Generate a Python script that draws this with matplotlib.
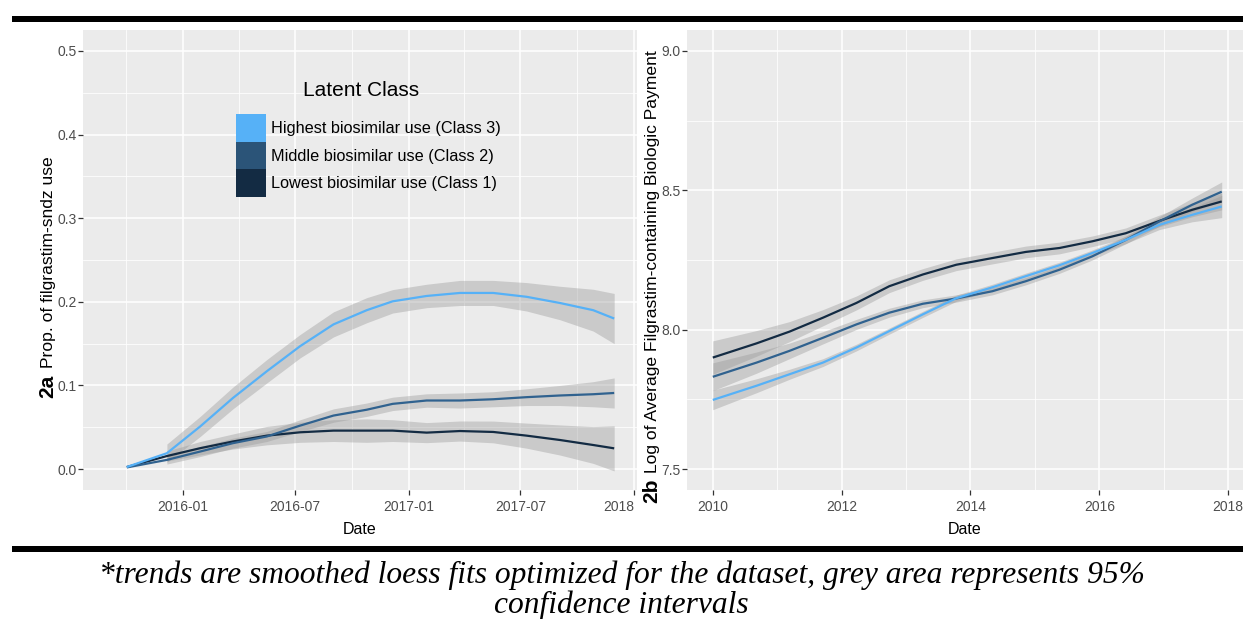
import matplotlib
matplotlib.use('Agg')
import matplotlib.pyplot as plt
from matplotlib.patches import Rectangle, Patch
import numpy as np
import pandas as pd

# ---------------- data ----------------
classes = ['Highest biosimilar use (Class 3)', 'Middle biosimilar use (Class 2)', 'Lowest biosimilar use (Class 1)']

# Panel 2a: proportion of filgrastim-sndz use (loess fit) and 95% CI half-width
dates_a = ['2015-10-02', '2015-12-06', '2016-01-29', '2016-03-22', '2016-05-16', '2016-07-09',
           '2016-09-01', '2016-10-25', '2016-12-06', '2017-01-30', '2017-03-25', '2017-05-18',
           '2017-07-11', '2017-09-03', '2017-10-27', '2017-11-30']
prop_c3 = [0.0025, 0.019, 0.051, 0.085, 0.117, 0.147, 0.173, 0.190, 0.2006, 0.207, 0.2106, 0.2106,
           0.206, 0.1986, 0.190, 0.180]
prop_c2 = [0.002, 0.011, 0.021, 0.031, 0.039, 0.052, 0.064, 0.071, 0.078, 0.082, 0.082, 0.0835,
           0.086, 0.088, 0.0895, 0.091]
prop_c1 = [0.0025, 0.0156, 0.025, 0.033, 0.040, 0.044, 0.046, 0.046, 0.046, 0.0436, 0.0455, 0.0444,
           0.040, 0.0348, 0.0288, 0.0248]
ci_c3 = [np.nan, 0.011, 0.012, 0.013, 0.014, 0.014, 0.015, 0.015, 0.014, 0.014, 0.015, 0.015,
         0.017, 0.020, 0.025, 0.030]
ci_c2 = [np.nan, 0.005, 0.006, 0.006, 0.006, 0.007, 0.008, 0.008, 0.008, 0.008, 0.009, 0.009,
         0.010, 0.012, 0.015, 0.018]
ci_c1 = [np.nan, 0.006, 0.008, 0.009, 0.011, 0.012, 0.013, 0.014, 0.013, 0.012, 0.012, 0.013,
         0.015, 0.018, 0.022, 0.027]

# Panel 2b: log of average filgrastim-containing biologic payment
years_b = [2010.0, 2010.68, 2011.19, 2011.71, 2012.23, 2012.74, 2013.26, 2013.78, 2014.34, 2014.86,
           2015.38, 2015.89, 2016.41, 2016.93, 2017.44, 2017.9]
pay_c3 = [7.748, 7.799, 7.840, 7.882, 7.936, 7.995, 8.055, 8.113, 8.152, 8.192, 8.231, 8.275,
          8.322, 8.376, 8.412, 8.442]
pay_c2 = [7.831, 7.882, 7.924, 7.971, 8.019, 8.061, 8.093, 8.112, 8.138, 8.174, 8.215, 8.263,
          8.322, 8.388, 8.448, 8.495]
pay_c1 = [7.900, 7.951, 7.993, 8.043, 8.096, 8.156, 8.198, 8.233, 8.257, 8.279, 8.293, 8.317,
          8.346, 8.390, 8.430, 8.460]
pci_c3 = [0.035, 0.025, 0.018, 0.014, 0.012, 0.011, 0.011, 0.011, 0.011, 0.011, 0.011, 0.011,
          0.013, 0.017, 0.025, 0.040]
pci_c2 = [0.050, 0.038, 0.028, 0.022, 0.018, 0.016, 0.014, 0.013, 0.013, 0.013, 0.013, 0.013,
          0.014, 0.017, 0.024, 0.035]
pci_c1 = [0.060, 0.046, 0.036, 0.029, 0.025, 0.023, 0.021, 0.021, 0.021, 0.021, 0.021, 0.019,
          0.019, 0.021, 0.025, 0.030]

xticks_a = ['2016-01-01', '2016-07-01', '2017-01-01', '2017-07-01', '2018-01-01']
xticklabels_a = ['2016-01', '2016-07', '2017-01', '2017-07', '2018']
xminor_a = ['2015-10-01', '2016-04-01', '2016-10-01', '2017-04-01', '2017-10-01']
yticks_a = [0.0, 0.1, 0.2, 0.3, 0.4, 0.5]
xticks_b = [2010, 2012, 2014, 2016, 2018]
yticks_b = [7.5, 8.0, 8.5, 9.0]

caption1 = '*trends are smoothed loess fits optimized for the dataset, grey area represents 95%'
caption2 = 'confidence intervals'

# ---------------- styling ----------------
line_colors = ['#56B1F7', '#30628F', '#132B43']
key_colors = ['#56B1F7', '#2B5478', '#132B43']
band_color = '#999999'

W, H = 1243, 619
fig = plt.figure(figsize=(W / 100, H / 100), dpi=100)


def fx(px):
    return px / W


def fy(py):
    return 1 - py / H


SANS = 'Liberation Sans'
TICK_SIZE = 10


def style(ax):
    ax.set_facecolor('#EBEBEB')
    for s in ax.spines.values():
        s.set_visible(False)
    ax.set_axisbelow(True)
    ax.grid(which='major', color='white', lw=1.1)
    ax.grid(which='minor', color='white', lw=0.55)
    ax.tick_params(which='major', length=3.5, width=0.9, color='#333333',
                   labelcolor='#4D4D4D', labelsize=TICK_SIZE, labelfontfamily=SANS)
    ax.tick_params(which='minor', length=0)
    ax.tick_params(axis='y', pad=1.2)
    ax.tick_params(axis='x', pad=3.5)


ax1 = fig.add_axes([fx(83), fy(490), fx(637) - fx(83), fy(30) - fy(490)])
ax2 = fig.add_axes([fx(687), fy(490), fx(1243) - fx(687), fy(30) - fy(490)])
style(ax1)
style(ax2)

# ---- panel 2a ----
da = pd.to_datetime(dates_a)
for vals, ci, col in [(prop_c3, ci_c3, line_colors[0]), (prop_c2, ci_c2, line_colors[1]),
                      (prop_c1, ci_c1, line_colors[2])]:
    v = np.array(vals)
    c = np.array(ci)
    ax1.fill_between(da, v - c, v + c, color=band_color, alpha=0.4, lw=0)
for vals, col in [(prop_c1, line_colors[2]), (prop_c2, line_colors[1]), (prop_c3, line_colors[0])]:
    ax1.plot(da, vals, color=col, lw=1.6, solid_capstyle='butt')

ax1.set_xlim(pd.Timestamp('2015-07-23'), pd.Timestamp('2018-01-06'))
ax1.set_ylim(-0.025, 0.525)
ax1.set_xticks(pd.to_datetime(xticks_a))
ax1.set_xticklabels(xticklabels_a)
ax1.set_xticks(pd.to_datetime(xminor_a), minor=True)
ax1.set_yticks(yticks_a)
ax1.set_yticklabels(['%.1f' % t for t in yticks_a])
ax1.set_yticks(np.arange(0.05, 0.5, 0.1), minor=True)
ax1.set_xlabel('Date', fontsize=11.5, family=SANS, color='black', labelpad=6)
# last label sits at the panel edge (cut off by the neighbouring panel in the original)
ax1.get_xticklabels()[-1].set_horizontalalignment('right')

handles = [Patch(facecolor=c, edgecolor='none', lw=0) for c in key_colors]
fs_leg = 11.7
pxfs = fs_leg * 100 / 72
row_px = 27.7
hh = (row_px / pxfs - 0.245) / 0.65
ax1.legend(handles, classes, loc='upper left', bbox_to_anchor=(fx(236), fy(114)),
           bbox_transform=fig.transFigure, frameon=False, borderpad=0, borderaxespad=0,
           labelspacing=0, handlelength=30 / pxfs, handleheight=hh, handletextpad=5 / pxfs,
           prop={'family': SANS, 'size': fs_leg})
fig.text(fx(361), fy(90), 'Latent Class', ha='center', va='center', fontsize=15, family=SANS)

# ---- panel 2b ----
yb = np.array(years_b)
for vals, ci, col in [(pay_c3, pci_c3, line_colors[0]), (pay_c2, pci_c2, line_colors[1]),
                      (pay_c1, pci_c1, line_colors[2])]:
    v = np.array(vals)
    c = np.array(ci)
    ax2.fill_between(yb, v - c, v + c, color=band_color, alpha=0.4, lw=0)
for vals, col in [(pay_c1, line_colors[2]), (pay_c2, line_colors[1]), (pay_c3, line_colors[0])]:
    ax2.plot(yb, vals, color=col, lw=1.6, solid_capstyle='butt')

ax2.set_xlim(2009.6, 2018.23)
ax2.set_ylim(7.425, 9.075)
ax2.set_xticks(xticks_b)
ax2.set_xticklabels([str(t) for t in xticks_b])
ax2.set_xticks([2011, 2013, 2015, 2017], minor=True)
ax2.set_yticks(yticks_b)
ax2.set_yticklabels(['%.1f' % t for t in yticks_b])
ax2.set_yticks([7.75, 8.25, 8.75], minor=True)
ax2.set_xlabel('Date', fontsize=11.5, family=SANS, color='black', labelpad=6)

# ---- y labels with bold panel tags ----
kw = dict(rotation=90, rotation_mode='anchor', ha='left', va='baseline', family=SANS, color='black')
fig.text(fx(53), fy(398), '2a', fontsize=15, fontweight='bold', **kw)
fig.text(fx(53), fy(368), 'Prop. of filgrastim-sndz use', fontsize=12.6, **kw)
fig.text(fx(657), fy(503), '2b', fontsize=15, fontweight='bold', **kw)
fig.text(fx(657), fy(473), 'Log of Average Filgrastim-containing Biologic Payment', fontsize=12.6, **kw)

# ---- rules and caption ----
fig.add_artist(Rectangle((fx(12), fy(22)), 1 - fx(12), fy(16) - fy(22), transform=fig.transFigure,
                         facecolor='black', edgecolor='none'))
fig.add_artist(Rectangle((fx(12), fy(552)), 1 - fx(12), fy(546) - fy(552), transform=fig.transFigure,
                         facecolor='black', edgecolor='none'))
fig.text(0.5, fy(583), caption1, ha='center', va='baseline', family='Liberation Serif',
         style='italic', fontsize=22.7)
fig.text(0.5, fy(613), caption2, ha='center', va='baseline', family='Liberation Serif',
         style='italic', fontsize=22.7)

fig.savefig('out.png', dpi=100, facecolor='white')
